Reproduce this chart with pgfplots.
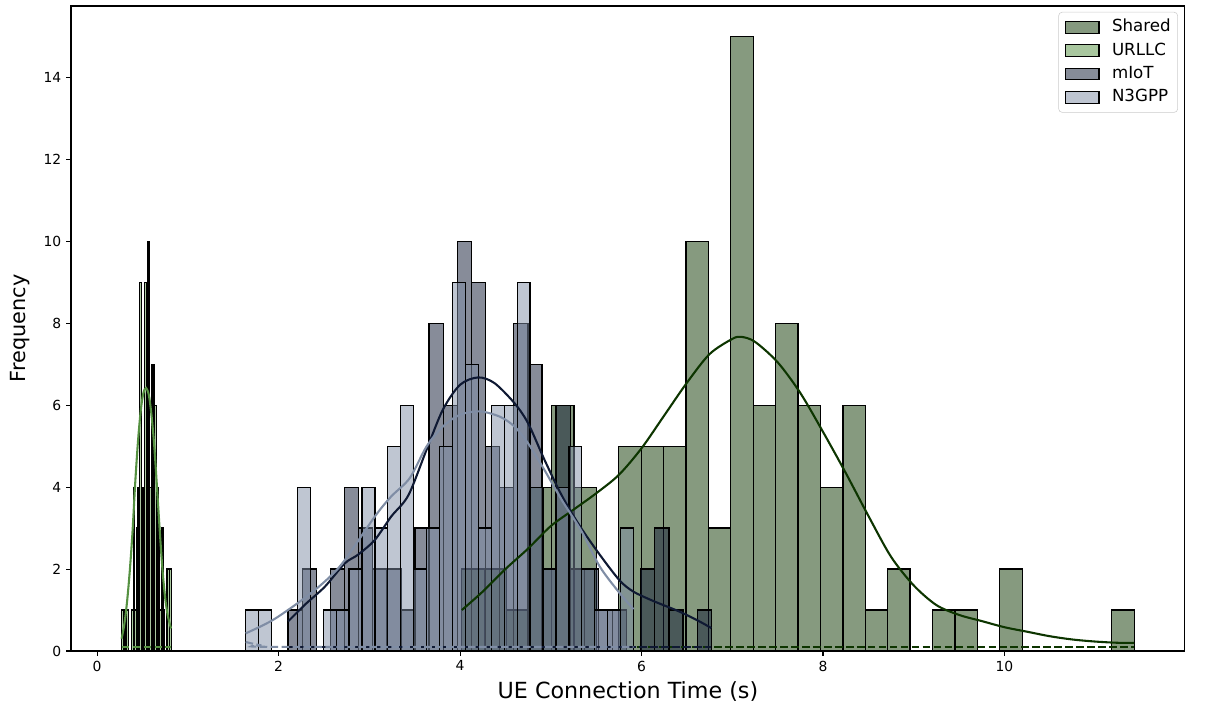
\documentclass[border=0pt]{standalone}
\usepackage{fontspec}
\setmainfont{DejaVu Sans}
\usepackage{pgfplots}
\pgfplotsset{compat=1.18}
\definecolor{sharedc}{RGB}{13,53,0}
\definecolor{urllcc}{RGB}{85,145,65}
\definecolor{miotc}{RGB}{15,25,51}
\definecolor{nc}{RGB}{127,141,165}
\pgfplotsset{histleg/.style={legend image code/.code={\draw[##1, sharp corners, line width=0.9pt] (0pt,-4.2pt) rectangle (24pt,4.2pt);}}}
\begin{document}
\begin{tikzpicture}
\useasboundingbox (-51.1pt,-41pt) rectangle (816.5pt,468.7pt);
\begin{axis}[
  at={(0,0)}, anchor=south west,
  scale only axis, width=802pt, height=464.4pt,
  xmin=-0.288, xmax=11.988, ymin=0, ymax=15.75,
  xtick={0,2,...,12}, ytick={0,2,...,14},
  tick align=outside, tick pos=left, major tick length=3.5pt,
  every tick/.style={black, line width=0.8pt},
  axis line style={line width=0.8pt},
  ticklabel style={font=\fontsize{10}{12}\selectfont},
  /pgf/number format/assume math mode=true,
  xlabel={UE Connection Time (s)}, ylabel={Frequency},
  xlabel style={font=\fontsize{16}{19}\selectfont, at={(axis description cs:0.5,0)}, anchor=center, yshift=-29.5pt},
  ylabel style={font=\fontsize{15}{18}\selectfont, at={(axis description cs:-0.0458,0.5)}, anchor=center},
  legend style={at={(1,1)}, anchor=north east, xshift=-5pt, yshift=-4.3pt,
    draw=black!20, rounded corners=2.5pt, fill=white, fill opacity=0.8, text opacity=1,
    font=\fontsize{12}{14}\selectfont, row sep=4.1pt, inner sep=4.5pt,
    nodes={inner sep=0.5pt, text height=9.2pt, text depth=2.5pt},
    /tikz/every odd column/.append style={column sep=8.5pt}},
  legend cell align=left,
]
% ---------- histograms ----------
\addplot[ybar interval, fill=sharedc, fill opacity=0.5, draw=black, line width=0.9pt, forget plot] coordinates {
(4.020,2) (4.267,2) (4.514,1) (4.761,4) (5.008,6) (5.255,4) (5.502,0) (5.749,5) (5.996,5) (6.243,5)
(6.490,10) (6.737,3) (6.984,15) (7.231,6) (7.478,8) (7.725,6) (7.972,4) (8.219,6) (8.466,1) (8.713,2)
(8.960,0) (9.207,1) (9.454,1) (9.701,0) (9.948,2) (10.195,0) (10.442,0) (10.689,0) (10.936,0) (11.183,1)
(11.430,1)};
\addplot[ybar interval, fill=urllcc, fill opacity=0.5, draw=black, line width=0.9pt, forget plot] coordinates {
(0.2700,1) (0.2882,1) (0.3064,1) (0.3246,1) (0.3428,0) (0.3610,0) (0.3792,1) (0.3974,4) (0.4156,1) (0.4338,3)
(0.4520,4) (0.4702,9) (0.4884,4) (0.5066,4) (0.5248,9) (0.5430,4) (0.5612,10) (0.5794,4) (0.5976,7) (0.6158,7)
(0.6340,6) (0.6522,4) (0.6704,3) (0.6886,1) (0.7068,3) (0.7250,1) (0.7432,0) (0.7614,2) (0.7796,2) (0.7978,2)
(0.8160,2)};
\addplot[ybar interval, fill=miotc, fill opacity=0.5, draw=black, line width=0.9pt, forget plot] coordinates {
(2.1040,1) (2.2595,2) (2.4150,0) (2.5705,2) (2.7260,4) (2.8815,3) (3.0370,2) (3.1925,2) (3.3480,1) (3.5035,3)
(3.6590,8) (3.8145,6) (3.9700,10) (4.1255,9) (4.2810,5) (4.4365,4) (4.5920,8) (4.7475,7) (4.9030,2) (5.0585,6)
(5.2140,2) (5.3695,2) (5.5250,1) (5.6805,1) (5.8360,0) (5.9915,2) (6.1470,3) (6.3025,1) (6.4580,0) (6.6135,1)
(6.7690,1)};
\addplot[ybar interval, fill=nc, fill opacity=0.5, draw=black, line width=0.9pt, forget plot] coordinates {
(1.6370,1) (1.7795,1) (1.9220,0) (2.0645,0) (2.2070,4) (2.3495,0) (2.4920,1) (2.6345,1) (2.7770,2) (2.9195,4)
(3.0620,3) (3.2045,5) (3.3470,6) (3.4895,2) (3.6320,3) (3.7745,5) (3.9170,9) (4.0595,7) (4.2020,3) (4.3445,6)
(4.4870,6) (4.6295,9) (4.7720,4) (4.9145,2) (5.0570,4) (5.1995,5) (5.3420,2) (5.4845,1) (5.6270,1) (5.7695,3)
(5.9120,3)};
% ---------- KDE curves ----------
\addplot[sharedc, line width=1.5pt, smooth, forget plot] coordinates {
(4.02,1.0) (4.25,1.45) (4.5,2.0) (4.75,2.5) (5.0,3.05) (5.25,3.45) (5.5,3.85) (5.75,4.3) (6.0,4.95) (6.25,5.75)
(6.5,6.55) (6.75,7.25) (7.0,7.62) (7.1,7.67) (7.25,7.55) (7.5,7.05) (7.75,6.3) (8.0,5.35) (8.25,4.35) (8.5,3.3)
(8.75,2.3) (9.0,1.6) (9.25,1.12) (9.5,0.88) (9.75,0.73) (10.0,0.58) (10.25,0.47) (10.5,0.36) (10.75,0.28) (11.0,0.23)
(11.25,0.2) (11.43,0.2)};
\addplot[urllcc, line width=1.5pt, smooth, forget plot] coordinates {
(0.27,0.3) (0.30,0.65) (0.33,1.2) (0.36,1.95) (0.39,2.9) (0.42,4.1) (0.45,5.1) (0.48,5.85) (0.51,6.3) (0.54,6.42)
(0.57,6.25) (0.60,5.75) (0.63,5.0) (0.66,4.0) (0.69,2.95) (0.72,2.0) (0.75,1.3) (0.78,0.85) (0.815,0.55)};
\addplot[miotc, line width=1.5pt, smooth, forget plot] coordinates {
(2.104,0.72) (2.3,1.15) (2.51,1.57) (2.73,2.14) (2.875,2.35) (3.06,2.71) (3.24,3.28) (3.43,3.8) (3.63,4.91) (3.81,5.89)
(4.0,6.5) (4.2,6.68) (4.38,6.54) (4.6,6.05) (4.75,5.56) (4.93,4.67) (5.12,3.8) (5.32,3.05) (5.54,2.35) (5.76,1.72)
(5.91,1.45) (6.13,1.22) (6.42,0.96) (6.64,0.72) (6.769,0.56)};
\addplot[nc, line width=1.5pt, smooth, forget plot] coordinates {
(1.637,0.43) (1.94,0.76) (2.31,1.33) (2.56,1.8) (2.73,2.22) (3.06,3.28) (3.24,3.77) (3.445,4.22) (3.63,4.99) (3.81,5.48)
(4.0,5.77) (4.22,5.85) (4.44,5.72) (4.6,5.48) (4.75,5.07) (4.93,4.42) (5.12,3.69) (5.34,2.92) (5.54,2.06) (5.76,1.41)
(5.912,1.02)};
% ---------- dashed baselines ----------
\addplot[sharedc, dash pattern=on 5.5pt off 2.4pt, line width=1.5pt, forget plot] coordinates {(4.02,0.1) (11.43,0.1)};
\addplot[urllcc, dash pattern=on 5.5pt off 2.4pt, line width=1.5pt, forget plot] coordinates {(0.27,0.1) (0.816,0.1)};
\addplot[miotc, dash pattern=on 5.5pt off 2.4pt, line width=1.5pt, forget plot] coordinates {(2.104,0.1) (6.769,0.1)};
\addplot[nc, dash pattern=on 5.5pt off 2.4pt, line width=1.5pt, smooth, forget plot] coordinates {(1.637,0.22) (1.8,0.14) (2.0,0.1) (5.912,0.1)};
% ---------- legend ----------
\addlegendimage{histleg, fill=sharedc, fill opacity=0.5, draw=black}
\addlegendentry{Shared}
\addlegendimage{histleg, fill=urllcc, fill opacity=0.5, draw=black}
\addlegendentry{URLLC}
\addlegendimage{histleg, fill=miotc, fill opacity=0.5, draw=black}
\addlegendentry{mIoT}
\addlegendimage{histleg, fill=nc, fill opacity=0.5, draw=black}
\addlegendentry{N3GPP}
\end{axis}
\end{tikzpicture}
\end{document}
